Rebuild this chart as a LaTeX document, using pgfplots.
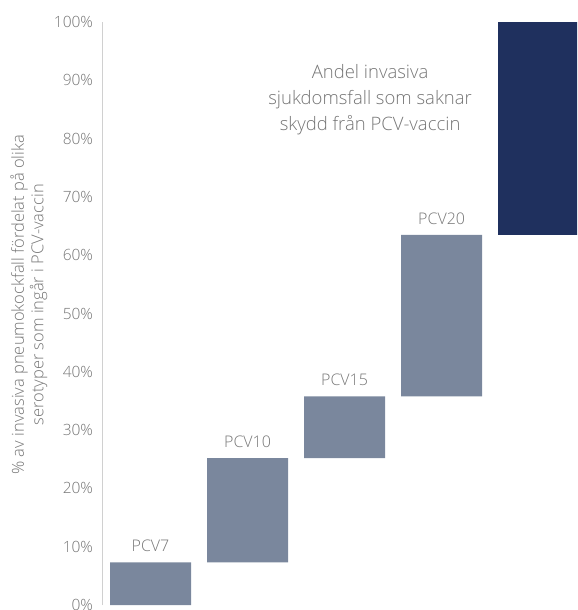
\documentclass[border=0pt]{standalone}
\usepackage{pgfplots}
\pgfplotsset{compat=1.18}
\usepackage{fontspec}
\setmainfont{Open Sans}[UprightFont={* Light}]
\definecolor{bargray}{RGB}{122,135,157}
\definecolor{bardark}{RGB}{31,48,94}
\definecolor{txtgray}{RGB}{118,118,118}
\definecolor{axgray}{RGB}{208,208,208}
\begin{document}
\begin{tikzpicture}
\begin{axis}[
  scale only axis,
  width=475pt, height=583pt,
  xmin=-0.5, xmax=4.395,
  ymin=0, ymax=100,
  ybar stacked,
  bar width=0.835,
  axis x line=none,
  axis y line*=left,
  y axis line style={axgray, line width=1pt, -},
  ytick={0,10,...,100},
  major tick length=0pt,
  /pgf/number format/assume math mode=true,
  yticklabel={\pgfmathprintnumber{\tick}\%},
  yticklabel style={font=\fontsize{15.5}{17}\selectfont, text=txtgray, anchor=east, xshift=-5.5pt},
  clip=true,
]
\addplot[draw=none, fill=none] coordinates {(0,0) (1,7.3) (2,25.2) (3,35.8) (4,63.5)};
\addplot[draw=none, fill=bargray] coordinates {(0,7.3) (1,17.9) (2,10.6) (3,27.7) (4,0)};
\addplot[draw=none, fill=bardark] coordinates {(0,0) (1,0) (2,0) (3,0) (4,36.5)};
\end{axis}
\begin{axis}[
  scale only axis,
  width=475pt, height=583pt,
  xmin=-0.5, xmax=4.395,
  ymin=0, ymax=100,
  axis lines=none,
  clip=false,
]
\addplot[draw=none, mark=none, forget plot] coordinates {(0,0)};
\begin{scope}[every node/.style={font=\fontsize{16}{18}\selectfont, text=txtgray}]
\node[anchor=south, yshift=7pt] at (axis cs:0,7.3) {PCV7};
\node[anchor=south, yshift=7pt] at (axis cs:1,25.2) {PCV10};
\node[anchor=south, yshift=7pt] at (axis cs:2,35.8) {PCV15};
\node[anchor=south, yshift=7pt] at (axis cs:3,63.5) {PCV20};
\node[rotate=90, align=center, font=\fontsize{16.5}{19.5}\selectfont] at ([xshift=-73pt]axis cs:-0.5,51.5) {\% av invasiva pneumokockfall fördelat på olika\\serotyper som ingår i PCV-vaccin};
\end{scope}
\node[align=center, text=txtgray, font=\fontsize{18.5}{26}\selectfont] at (axis cs:2.263,86.6) {Andel invasiva\\sjukdomsfall som saknar\\skydd från PCV-vaccin};
\coordinate (sw) at ([xshift=-102pt, yshift=-5pt]axis cs:-0.5,0);
\coordinate (ne) at ([yshift=22pt]axis cs:4.395,100);
\end{axis}
\pgfresetboundingbox
\useasboundingbox (sw) rectangle (ne);
\end{tikzpicture}
\end{document}
